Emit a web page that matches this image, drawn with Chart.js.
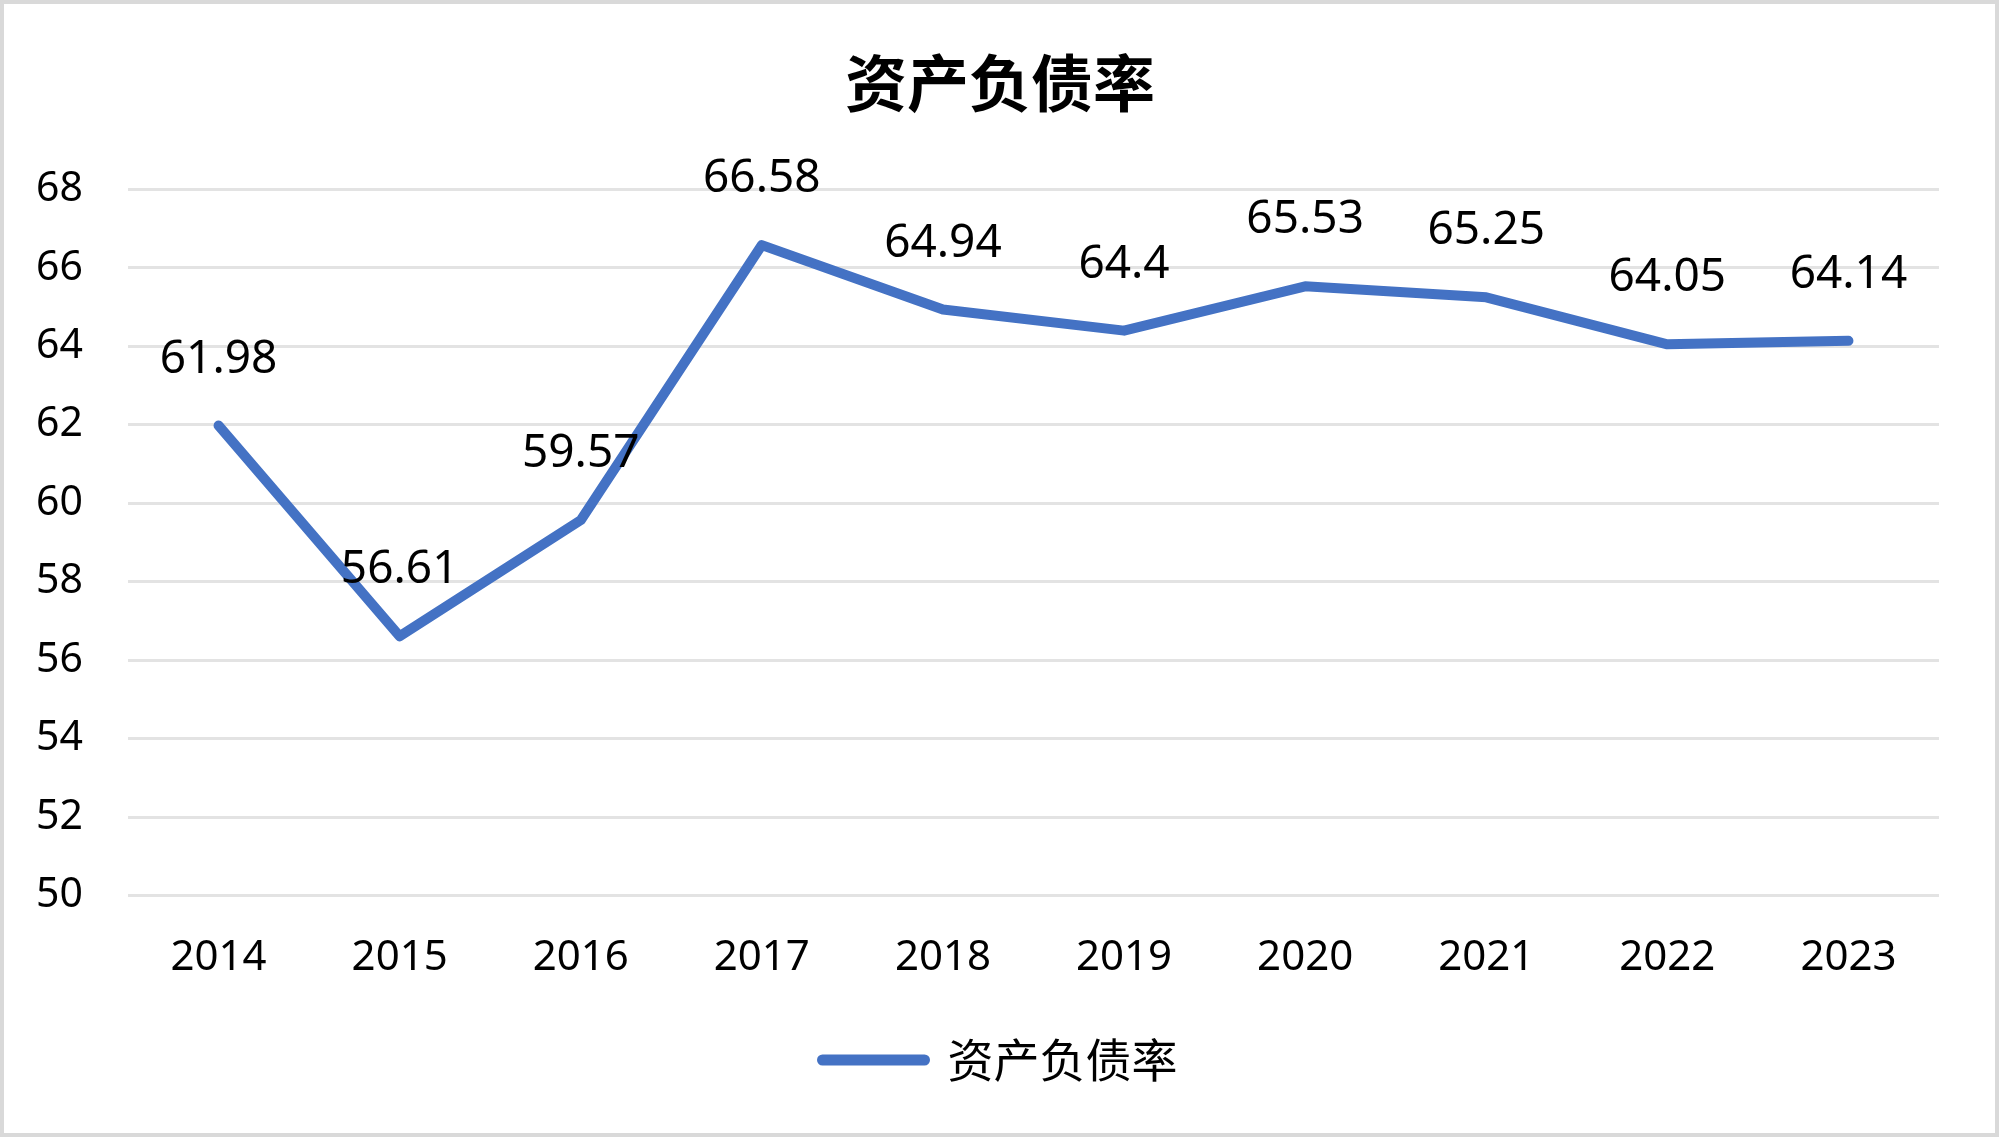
<!DOCTYPE html>
<html>
<head>
<meta charset="utf-8">
<script src="https://cdn.jsdelivr.net/npm/chart.js@4"></script>
<style>
  html, body { margin: 0; padding: 0; background: #ffffff; }
  #wrap { width: 2000px; height: 1138px; position: relative; }
</style>
</head>
<body>
<div id="wrap"><canvas id="c"></canvas></div>
<script>
const categories = ['2014', '2015', '2016', '2017', '2018', '2019', '2020', '2021', '2022', '2023'];
const seriesName = '资产负债率';
const seriesValues = [61.98, 56.61, 59.57, 66.58, 64.94, 64.4, 65.53, 65.25, 64.05, 64.14];
const valueLabels = ['61.98', '56.61', '59.57', '66.58', '64.94', '64.4', '65.53', '65.25', '64.05', '64.14'];
const yTicks = [50, 52, 54, 56, 58, 60, 62, 64, 66, 68];

const BLUE = '#4472C4';

const backgroundPlugin = {
  id: 'bgBorder',
  beforeDraw(chart) {
    const ctx = chart.ctx;
    ctx.save();
    ctx.fillStyle = '#ffffff';
    ctx.fillRect(0, 0, chart.width, chart.height);
    ctx.strokeStyle = '#d9d9d9';
    ctx.lineWidth = 4;
    ctx.strokeRect(2, 2, chart.width - 5, chart.height - 5);
    ctx.restore();
  }
};

const valueLabelPlugin = {
  id: 'valueLabels',
  afterDatasetsDraw(chart) {
    const ctx = chart.ctx;
    const meta = chart.getDatasetMeta(0);
    ctx.save();
    ctx.font = '46px "Noto Sans", "Open Sans", sans-serif';
    ctx.fillStyle = '#000000';
    ctx.textAlign = 'center';
    ctx.textBaseline = 'middle';
    meta.data.forEach((pt, i) => {
      ctx.fillText(valueLabels[i], pt.x, pt.y - 66);
    });
    ctx.restore();
  }
};

const ctx = document.getElementById('c').getContext('2d');
new Chart(ctx, {
  type: 'line',
  data: {
    labels: categories,
    datasets: [{
      label: seriesName,
      data: seriesValues,
      borderColor: BLUE,
      backgroundColor: BLUE,
      borderWidth: 10,
      borderCapStyle: 'round',
      borderJoinStyle: 'round',
      pointRadius: 0,
      pointHoverRadius: 0,
      tension: 0,
      fill: false,
      yAxisID: 'y'
    }]
  },
  options: {
    responsive: true,
    maintainAspectRatio: false,
    devicePixelRatio: 1,
    animation: false,
    events: [],
    layout: { padding: { left: 0, right: 0, top: 0, bottom: 45 } },
    plugins: {
      title: {
        display: true,
        text: seriesName,
        color: '#000000',
        font: { family: '"Noto Sans CJK SC", sans-serif', size: 62, weight: 'bold', lineHeight: 1.2 },
        padding: { top: 46, bottom: 69 }
      },
      legend: {
        display: true,
        position: 'bottom',
        labels: {
          color: '#000000',
          font: { family: '"Noto Sans CJK SC", sans-serif', size: 46, lineHeight: 1.2 },
          usePointStyle: true,
          pointStyleWidth: 102,
          padding: 17,
          generateLabels(chart) {
            return [{
              text: seriesName,
              fillStyle: BLUE,
              strokeStyle: BLUE,
              lineWidth: 11,
              lineCap: 'round',
              pointStyle: 'line',
              hidden: false,
              datasetIndex: 0,
              fontColor: '#000000'
            }];
          }
        }
      },
      tooltip: { enabled: false }
    },
    scales: {
      x: {
        type: 'category',
        offset: true,
        grid: { display: false, drawTicks: false },
        border: { display: false },
        ticks: {
          color: '#000000',
          font: { family: '"Noto Sans", sans-serif', size: 42 },
          padding: 37,
          maxRotation: 0,
          autoSkip: false
        }
      },
      y: {
        position: 'left',
        min: 50,
        max: 68,
        afterFit(scale) { scale.width = 128; },
        afterBuildTicks(scale) { scale.ticks = yTicks.map(v => ({ value: v })); },
        grid: { color: '#e3e3e3', lineWidth: 3, drawTicks: false },
        border: { display: false },
        ticks: {
          color: '#000000',
          font: { family: '"Noto Sans", sans-serif', size: 41 },
          padding: 45
        }
      },
      yRight: {
        position: 'right',
        min: 50,
        max: 68,
        afterFit(scale) { scale.width = 61; },
        grid: { display: false, drawTicks: false },
        border: { display: false },
        ticks: { display: false }
      }
    }
  },
  plugins: [backgroundPlugin, valueLabelPlugin]
});
</script>
</body>
</html>
